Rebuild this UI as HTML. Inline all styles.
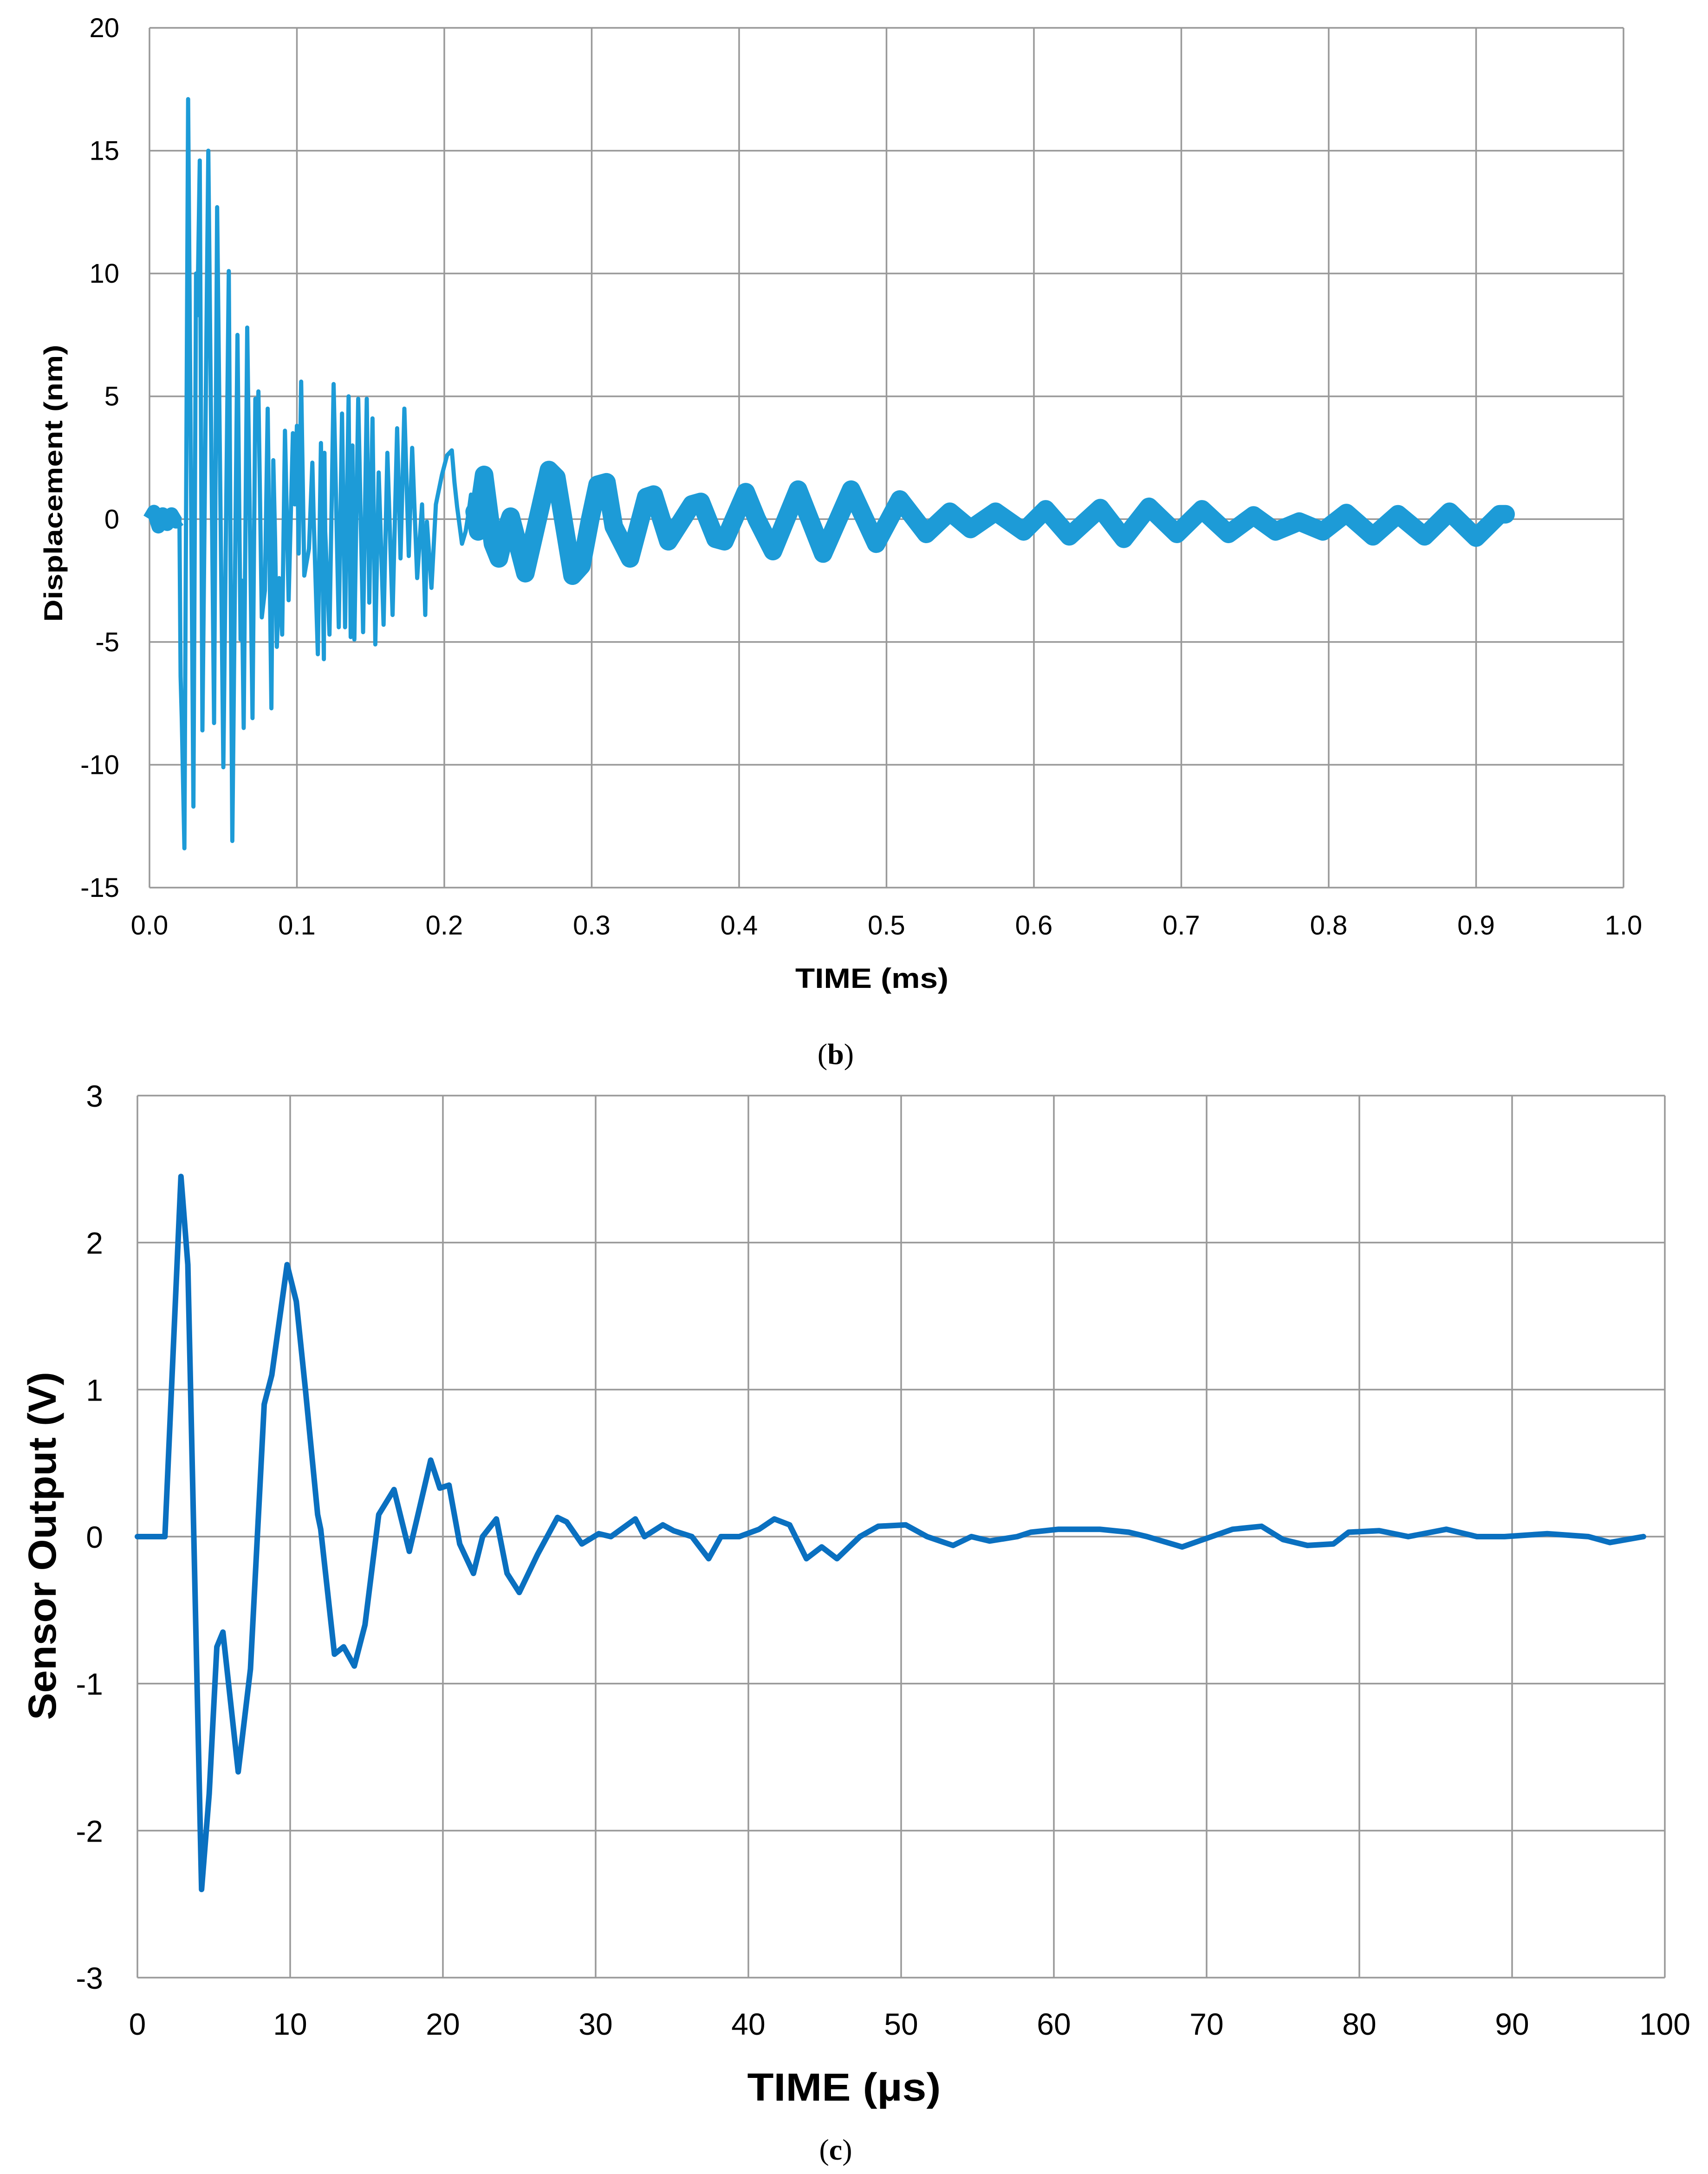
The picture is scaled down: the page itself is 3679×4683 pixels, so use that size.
<!DOCTYPE html>
<html><head><meta charset="utf-8"><style>
html,body{margin:0;padding:0;background:#fff;}
svg{display:block;}
text{font-family:"Liberation Sans",sans-serif;fill:#000;}
</style></head><body>
<svg id="fig" width="3679" height="4683" viewBox="0 0 3679 4683" xmlns="http://www.w3.org/2000/svg">
<rect width="3679" height="4683" fill="#fff"/>
<g id="chartB"></g>
<g id="chartC"></g>
<text x="1800" y="2292" text-anchor="middle" style="font-family:'Liberation Serif',serif;font-size:64px">(<tspan font-weight="bold">b</tspan>)</text>
<text x="1800" y="4652" text-anchor="middle" style="font-family:'Liberation Serif',serif;font-size:64px">(<tspan font-weight="bold">c</tspan>)</text>
</svg>
<script>
// ---- Chart (b) data: displacement (nm) vs time (ms)
const bTimes = [0,0.003,0.006,0.009,0.012,0.015,0.018,0.0203,0.0211,0.0219,0.0237,0.0262,0.0298,0.0316,0.0325,0.0341,0.0359,0.0399,0.0438,0.0459,0.0501,0.0538,0.0562,0.0597,0.0618,0.0626,0.0639,0.0663,0.0699,0.0718,0.0729,0.0739,0.0762,0.0783,0.0802,0.0827,0.0840,0.0852,0.0864,0.0880,0.0900,0.0919,0.0944,0.0973,0.0985,0.1000,0.1012,0.1029,0.1050,0.1082,0.1105,0.1114,0.1142,0.1163,0.1183,0.1187,0.1192,0.1221,0.1249,0.1284,0.1306,0.1327,0.1351,0.1365,0.1377,0.1390,0.1416,0.1449,0.1474,0.1491,0.1513,0.1532,0.1555,0.1588,0.1614,0.1649,0.1680,0.1703,0.1729,0.1759,0.1782,0.1816,0.1849,0.1871,0.1882,0.1913,0.1943,0.1984,0.2019,0.2051,0.2069,0.2087,0.2120,0.2145,0.2163,0.2181,0.2206,0.2230,0.2246,0.2270,0.2300,0.2330,0.2370,0.2410,0.2450,0.2550,0.2710,0.2760,0.2870,0.2930,0.2990,0.3040,0.3100,0.3150,0.3260,0.3370,0.3420,0.3520,0.3680,0.3740,0.3840,0.3900,0.4045,0.4120,0.4230,0.4400,0.4570,0.4760,0.4930,0.5090,0.5270,0.5430,0.5570,0.5740,0.5930,0.6080,0.6240,0.6450,0.6610,0.6780,0.6970,0.7140,0.7320,0.7490,0.7640,0.7800,0.7960,0.8120,0.8300,0.8470,0.8650,0.8820,0.9000,0.9160,0.9200];
const bValues = [0,0.3,-0.3,0.2,-0.2,0.2,-0.1,0,-6.4,-8.1,-13.4,17.1,-11.7,10.0,8.3,14.6,-8.6,15.0,-8.3,12.7,-10.1,10.1,-13.1,7.5,-4.9,-2.5,-8.5,7.8,-8.1,4.9,3.3,5.2,-4.0,-2.9,4.5,-7.7,2.4,-0.8,-5.2,-2.4,-4.7,3.6,-3.3,3.5,0.6,3.8,-1.4,5.6,-2.3,-1.2,2.3,0,-5.5,3.1,-5.7,2.7,-0.5,-4.7,5.5,-4.4,4.3,-4.4,5.0,-4.8,3.0,-4.9,4.9,-4.6,4.9,-3.4,4.1,-5.1,1.9,-4.3,2.7,-3.9,3.7,-1.6,4.5,-1.5,2.9,-2.4,0.6,-3.9,-0.1,-2.8,0.6,1.8,2.6,2.8,1.5,0.5,-1.0,-0.5,0.2,1.0,0.3,-0.5,0.8,1.8,0.4,-1.0,-1.6,-0.6,0.1,-2.2,2.0,1.7,-2.3,-1.9,0,1.4,1.5,-0.3,-1.6,0.9,1.0,-0.9,0.6,0.7,-0.8,-0.9,1.1,0,-1.3,1.2,-1.4,1.2,-1.0,0.8,-0.6,0.3,-0.4,0.3,-0.5,0.4,-0.7,0.45,-0.8,0.5,-0.6,0.4,-0.6,0.15,-0.5,-0.1,-0.5,0.25,-0.7,0.2,-0.7,0.3,-0.75,0.2,0.2];
const bXTicks = ["0.0","0.1","0.2","0.3","0.4","0.5","0.6","0.7","0.8","0.9","1.0"];
const bYTicks = [20,15,10,5,0,-5,-10,-15];

// ---- Chart (c) data: sensor output (V) vs time (µs)
const cTimes = [0,1.8,2.85,3.3,4.2,4.7,5.2,5.6,6.6,7.4,8.3,8.8,9.8,10.4,11,11.8,12.0,12.9,13.5,14.2,14.9,15.8,16.8,17.8,18.3,19.2,19.8,20.4,21.1,22,22.6,23.5,24.2,25,26.2,27.5,28.1,29.1,30.2,31,32.6,33.2,34.4,35.1,36.3,37.4,38.2,39.4,40.7,41.7,42.7,43.8,44.8,45.8,47.3,48.5,50.3,51.7,53.4,54.6,55.8,57.6,58.5,60.3,63,64.9,66.1,68.4,69.5,71.7,73.6,75,76.6,78.3,79.3,81.3,83.2,85.7,87.7,89.5,92.3,95,96.4,98.6];
const cValues = [0,0,2.45,1.85,-2.4,-1.75,-0.75,-0.65,-1.6,-0.9,0.9,1.1,1.85,1.6,1.0,0.15,0.05,-0.8,-0.75,-0.88,-0.6,0.15,0.32,-0.1,0.12,0.52,0.33,0.35,-0.05,-0.25,0.0,0.12,-0.25,-0.38,-0.12,0.13,0.1,-0.05,0.02,0.0,0.12,0,0.08,0.04,0.0,-0.15,0.0,0.0,0.05,0.12,0.08,-0.15,-0.07,-0.15,0,0.07,0.08,0,-0.06,0,-0.03,0,0.03,0.05,0.05,0.03,0.0,-0.07,-0.03,0.05,0.07,-0.02,-0.06,-0.05,0.03,0.04,0,0.05,0,0,0.02,0,-0.04,0];
const cXTicks = [0,10,20,30,40,50,60,70,80,90,100];
const cYTicks = [3,2,1,0,-1,-2,-3];

const NS = "http://www.w3.org/2000/svg";
function mk(parent, tag, attrs, txt){
  const e = document.createElementNS(NS, tag);
  for (const k in attrs) e.setAttribute(k, attrs[k]);
  if (txt !== undefined) e.textContent = txt;
  parent.appendChild(e);
  return e;
}

// ---------- Chart (b)
(function(){
  const g = document.getElementById('chartB');
  const L=322, R=3497, T=60, B=1912, xmin=0, xmax=1.0, ymin=-15, ymax=20;
  const X = t => L + (t-xmin)/(xmax-xmin)*(R-L);
  const Y = v => B - (v-ymin)/(ymax-ymin)*(B-T);
  bYTicks.forEach(v=>{
    const ln = mk(g,'line',{x1:L,x2:R,y1:Y(v),y2:Y(v),stroke:'#999','stroke-width':3.5});
    
    
    const tx = mk(g,'text',{x:L-65,y:Y(v)+20,'text-anchor':'end','font-size':58},String(v));
    
    
  });
  bXTicks.forEach(s=>{
    const v=parseFloat(s);
    const ln = mk(g,'line',{x1:X(v),x2:X(v),y1:T,y2:B,stroke:'#999','stroke-width':3.5});
    
    
    const tx = mk(g,'text',{x:X(v),y:2013,'text-anchor':'middle','font-size':58},s);
    
    
  });
  let d='';
  bTimes.forEach((t,i)=>{ d += (i?'L':'M') + X(t).toFixed(1) + ' ' + Y(bValues[i]).toFixed(1); });
  let d2='', d3='';
  bTimes.forEach((t,i)=>{
    if (t>=0.2206) d2 += (d2?'L':'M') + X(t).toFixed(1) + ' ' + Y(bValues[i]).toFixed(1);
    if (t<=0.0203) d3 += (d3?'L':'M') + X(t).toFixed(1) + ' ' + Y(bValues[i]).toFixed(1);
  });
  const band = mk(g,'path',{d:d2,fill:'none',stroke:'#1d9bd7','stroke-width':40,'stroke-linejoin':'round','stroke-linecap':'round'});
  
  
  const band2 = mk(g,'path',{d:d3,fill:'none',stroke:'#1d9bd7','stroke-width':30,'stroke-linejoin':'round'});
  
  
  const p = mk(g,'path',{d:d,fill:'none',stroke:'#1d9bd7','stroke-width':9,'stroke-linejoin':'round'});
  
  
  const xt = mk(g,'text',{x:1878,y:2128,'text-anchor':'middle','font-size':60,'font-weight':'bold',textLength:330,lengthAdjust:'spacingAndGlyphs'},'TIME  (ms)');
  
  
  const yt = mk(g,'text',{x:0,y:0,'text-anchor':'middle','font-size':56,'font-weight':'bold',textLength:597,lengthAdjust:'spacingAndGlyphs',transform:'translate(134,1041) rotate(-90)'},'Displacement  (nm)');
  
  
})();

// ---------- Chart (c)
(function(){
  const g = document.getElementById('chartC');
  const L=296, R=3586, T=2360, B=4260, xmin=0, xmax=100, ymin=-3, ymax=3;
  const X = t => L + (t-xmin)/(xmax-xmin)*(R-L);
  const Y = v => B - (v-ymin)/(ymax-ymin)*(B-T);
  cYTicks.forEach(v=>{
    const ln = mk(g,'line',{x1:L,x2:R,y1:Y(v),y2:Y(v),stroke:'#999','stroke-width':3.5});
    
    
    const tx = mk(g,'text',{x:L-74,y:Y(v)+24,'text-anchor':'end','font-size':66},String(v));
    
    
  });
  cXTicks.forEach(v=>{
    const ln = mk(g,'line',{x1:X(v),x2:X(v),y1:T,y2:B,stroke:'#999','stroke-width':3.5});
    
    
    const tx = mk(g,'text',{x:X(v),y:4383,'text-anchor':'middle','font-size':66},String(v));
    
    
  });
  let d='';
  cTimes.forEach((t,i)=>{ d += (i?'L':'M') + X(t).toFixed(1) + ' ' + Y(cValues[i]).toFixed(1); });
  const p = mk(g,'path',{d:d,fill:'none',stroke:'#0a70c0','stroke-width':12,'stroke-linejoin':'round','stroke-linecap':'round'});
  
  
  const xt = mk(g,'text',{x:1818,y:4525,'text-anchor':'middle','font-size':84,'font-weight':'bold',textLength:417,lengthAdjust:'spacingAndGlyphs'},'TIME  (µs)');
  
  
  const yt = mk(g,'text',{x:0,y:0,'text-anchor':'middle','font-size':84,'font-weight':'bold',textLength:750,lengthAdjust:'spacingAndGlyphs',transform:'translate(120,3330) rotate(-90)'},'Sensor Output  (V)');
  
  
})();
</script>
</body></html>
